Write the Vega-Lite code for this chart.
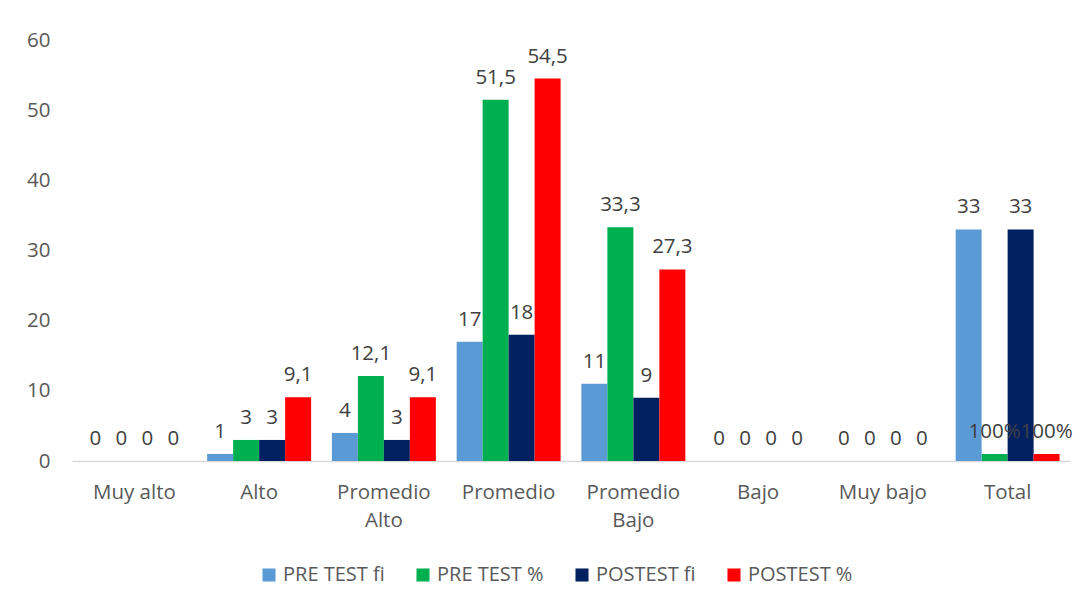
{
  "$schema": "https://vega.github.io/schema/vega-lite/v6.json",
  "autosize": "none",
  "width": 998,
  "height": 421,
  "padding": {"left": 72, "top": 40, "right": 16, "bottom": 143},
  "background": "white",
  "config": {
    "view": {"stroke": null},
    "font": "Open Sans",
    "axis": {"labelFont": "Open Sans", "labelColor": "#595959", "labelFontSize": 20.5},
    "legend": {"labelFont": "Open Sans", "labelColor": "#595959", "labelFontSize": 20}
  },
  "data": {
    "values": [
      {"cat": "Muy alto", "serie": "PRE TEST fi", "v": 0, "lab": "0"},
      {"cat": "Muy alto", "serie": "PRE TEST %", "v": 0, "lab": "0"},
      {"cat": "Muy alto", "serie": "POSTEST fi", "v": 0, "lab": "0"},
      {"cat": "Muy alto", "serie": "POSTEST %", "v": 0, "lab": "0"},
      {"cat": "Alto", "serie": "PRE TEST fi", "v": 1, "lab": "1"},
      {"cat": "Alto", "serie": "PRE TEST %", "v": 3, "lab": "3"},
      {"cat": "Alto", "serie": "POSTEST fi", "v": 3, "lab": "3"},
      {"cat": "Alto", "serie": "POSTEST %", "v": 9.1, "lab": "9,1"},
      {"cat": "Promedio Alto", "serie": "PRE TEST fi", "v": 4, "lab": "4"},
      {"cat": "Promedio Alto", "serie": "PRE TEST %", "v": 12.1, "lab": "12,1"},
      {"cat": "Promedio Alto", "serie": "POSTEST fi", "v": 3, "lab": "3"},
      {"cat": "Promedio Alto", "serie": "POSTEST %", "v": 9.1, "lab": "9,1"},
      {"cat": "Promedio", "serie": "PRE TEST fi", "v": 17, "lab": "17"},
      {"cat": "Promedio", "serie": "PRE TEST %", "v": 51.5, "lab": "51,5"},
      {"cat": "Promedio", "serie": "POSTEST fi", "v": 18, "lab": "18"},
      {"cat": "Promedio", "serie": "POSTEST %", "v": 54.5, "lab": "54,5"},
      {"cat": "Promedio Bajo", "serie": "PRE TEST fi", "v": 11, "lab": "11"},
      {"cat": "Promedio Bajo", "serie": "PRE TEST %", "v": 33.3, "lab": "33,3"},
      {"cat": "Promedio Bajo", "serie": "POSTEST fi", "v": 9, "lab": "9"},
      {"cat": "Promedio Bajo", "serie": "POSTEST %", "v": 27.3, "lab": "27,3"},
      {"cat": "Bajo", "serie": "PRE TEST fi", "v": 0, "lab": "0"},
      {"cat": "Bajo", "serie": "PRE TEST %", "v": 0, "lab": "0"},
      {"cat": "Bajo", "serie": "POSTEST fi", "v": 0, "lab": "0"},
      {"cat": "Bajo", "serie": "POSTEST %", "v": 0, "lab": "0"},
      {"cat": "Muy bajo", "serie": "PRE TEST fi", "v": 0, "lab": "0"},
      {"cat": "Muy bajo", "serie": "PRE TEST %", "v": 0, "lab": "0"},
      {"cat": "Muy bajo", "serie": "POSTEST fi", "v": 0, "lab": "0"},
      {"cat": "Muy bajo", "serie": "POSTEST %", "v": 0, "lab": "0"},
      {"cat": "Total", "serie": "PRE TEST fi", "v": 33, "lab": "33"},
      {"cat": "Total", "serie": "PRE TEST %", "v": 1, "lab": "100%"},
      {"cat": "Total", "serie": "POSTEST fi", "v": 33, "lab": "33"},
      {"cat": "Total", "serie": "POSTEST %", "v": 1, "lab": "100%"}
    ]
  },
  "encoding": {
    "x": {
      "field": "cat", "type": "nominal", "sort": null,
      "scale": {"paddingInner": 0, "paddingOuter": 0},
      "axis": {
        "title": null, "labelAngle": 0, "ticks": false, "domainColor": "#d9d9d9", "domainWidth": 1.5,
        "labelPadding": 21, "labelLineHeight": 28,
        "labelExpr": "datum.label == 'Promedio Alto' ? ['Promedio', 'Alto'] : datum.label == 'Promedio Bajo' ? ['Promedio', 'Bajo'] : datum.label"
      }
    },
    "xOffset": {
      "field": "serie", "type": "nominal",
      "sort": ["PRE TEST fi", "PRE TEST %", "POSTEST fi", "POSTEST %"],
      "scale": {"paddingInner": 0, "paddingOuter": 0.4}
    },
    "y": {
      "field": "v", "type": "quantitative",
      "scale": {"domain": [0, 60], "nice": false},
      "axis": {"title": null, "grid": false, "domain": false, "ticks": false, "values": [0, 10, 20, 30, 40, 50, 60], "labelOverlap": false, "labelPadding": 22}
    }
  },
  "layer": [
    {
      "mark": {"type": "bar"},
      "encoding": {
        "color": {
          "field": "serie", "type": "nominal",
          "scale": {
            "domain": ["PRE TEST fi", "PRE TEST %", "POSTEST fi", "POSTEST %"],
            "range": ["#5b9bd5", "#00b050", "#002060", "#ff0000"]
          },
          "legend": {
            "title": null, "orient": "none", "direction": "horizontal",
            "legendX": 187, "legendY": 525,
            "symbolType": "square", "symbolSize": 170, "symbolStrokeWidth": 0,
            "columnPadding": 28, "labelOffset": 4
          }
        }
      }
    },
    {
      "mark": {"type": "text", "baseline": "bottom", "dy": -12, "fontSize": 20.5, "color": "#404040", "font": "Open Sans"},
      "encoding": {"text": {"field": "lab"}}
    }
  ]
}
